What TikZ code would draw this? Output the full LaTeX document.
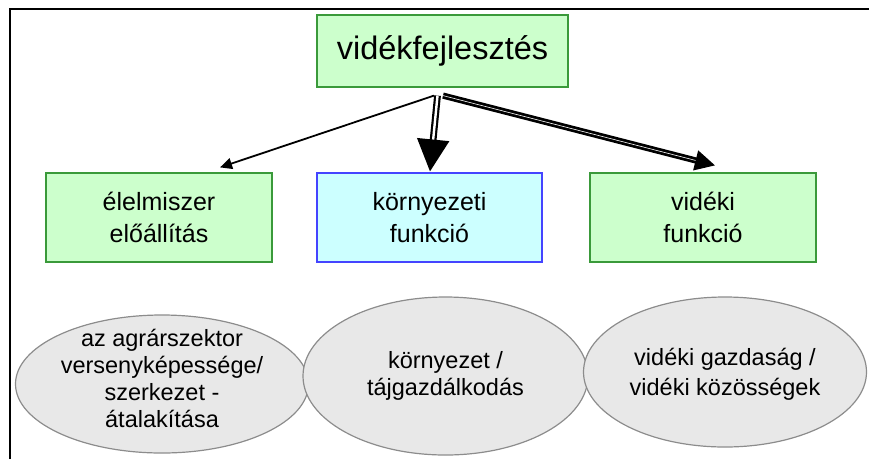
\documentclass[tikz,border=0pt]{standalone}
\usepackage{fontspec}
\setmainfont{Liberation Sans}
\usetikzlibrary{shapes.geometric,arrows.meta}

\definecolor{boxgreen}{HTML}{CCFFCC}
\definecolor{edgegreen}{HTML}{3A9A3A}
\definecolor{boxcyan}{HTML}{CCFFFF}
\definecolor{edgeblue}{HTML}{4444FF}
\definecolor{ovalfill}{HTML}{E8E8E8}
\definecolor{ovaledge}{HTML}{8C8C8C}

\tikzset{
  frameline/.style={line width=2.8pt, black},
  greenbox/.style={rectangle, draw=edgegreen, fill=boxgreen, line width=1.2pt,
    align=center, inner sep=0pt},
  cyanbox/.style={rectangle, draw=edgeblue, fill=boxcyan, line width=1.2pt,
    align=center, inner sep=0pt},
  boxtext/.style={font=\fontsize{25}{32}\selectfont},
  ovalfont/.style={font=\fontsize{23.5}{27}\selectfont},
  oval/.style={ellipse, draw=ovaledge, fill=ovalfill, line width=1.2pt,
    align=center, inner sep=0pt, ovalfont},
  thinarrow/.style={line width=1.8pt, -{Triangle[length=12pt,width=11pt]}},
  hollowarrow/.style={double=white, double distance=2.4pt, line width=2.2pt,
    -{Triangle[length=32pt,width=32pt]}},
  heavyarrow/.style={double=white, double distance=0.6pt, line width=2.8pt,
    -{Triangle[length=20pt,width=20pt]}}
}

\begin{document}
\begin{tikzpicture}[x=1pt, y=-1pt]
  \useasboundingbox (0,0) rectangle (869,459);

  % outer frame (top and left edges)
  \draw[frameline] (10,459) -- (10,9) -- (869,9);

  % lower row of ellipses
  \node[oval, minimum width=293pt, minimum height=138pt,
        label={[ovalfont, align=center, yshift=6pt]center:az agrárszektor\\versenyképessége/\\szerkezet -\\átalakítása}]
        (agrar) at (162,384) {};
  \node[oval, minimum width=285pt, minimum height=158pt] (taj) at (445.5,376)
    {környezet /\\tájgazdálkodás};
  \node[oval, minimum width=283pt, minimum height=150pt, text depth=0pt] (kozos) at (725,372)
    {vidéki gazdaság /\\[3pt]vidéki közösségek};

  % boxes
  \node[greenbox, minimum width=251pt, minimum height=72pt,
        font=\fontsize{32.5}{38}\selectfont] (top) at (442.5,51) {vidékfejlesztés};
  \node[greenbox, boxtext, minimum width=226pt, minimum height=89pt] (elel) at (159,217.5)
    {élelmiszer\\előállítás};
  \node[cyanbox, boxtext, minimum width=225pt, minimum height=89pt] (korny) at (429.5,217.5)
    {környezeti\\funkció};
  \node[greenbox, boxtext, minimum width=226pt, minimum height=89pt] (videk) at (703,217.5)
    {vidéki\\funkció};

  % arrow start and end points
  \coordinate (oL) at ([xshift=-8.5pt,yshift=-8pt]top.south);
  \coordinate (oM) at ([xshift=-5pt,yshift=-8pt]top.south);
  \coordinate (oR) at ([xshift=0.5pt,yshift=-8pt]top.south);
  \coordinate (tL) at ([xshift=61pt,yshift=5pt]elel.north);
  \coordinate (tM) at ([xshift=0.5pt,yshift=1pt]korny.north);
  \coordinate (tR) at ([xshift=12pt,yshift=7pt]videk.north);

  % arrows
  \draw[thinarrow] (oL) -- (tL);
  \draw[hollowarrow] (oM) -- (tM);
  \draw[heavyarrow] (oR) -- (tR);
\end{tikzpicture}
\end{document}
